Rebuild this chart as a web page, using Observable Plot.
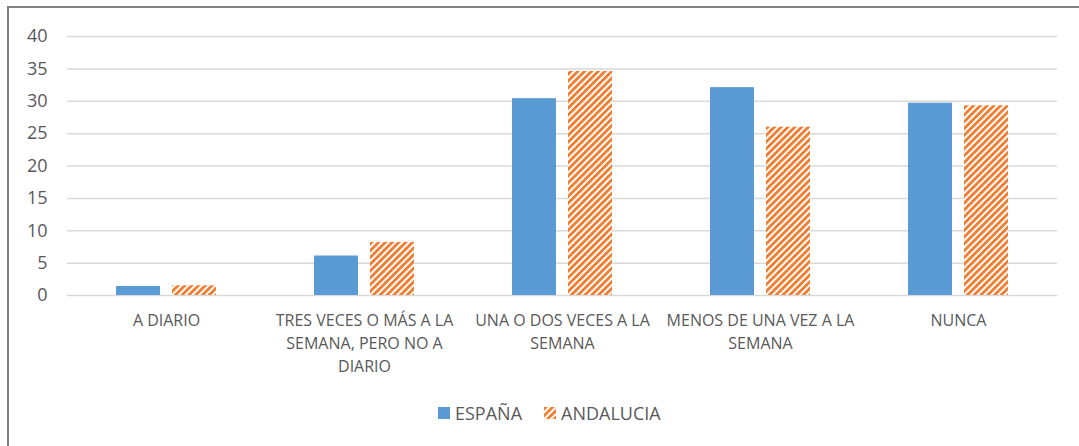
<!DOCTYPE html>
<html>
<head>
<meta charset="utf-8">
<script src="https://cdn.jsdelivr.net/npm/d3@7"></script>
<script src="https://cdn.jsdelivr.net/npm/@observablehq/plot@0.6"></script>
<style>
html, body { margin: 0; padding: 0; background: #fff; overflow: hidden; width: 1079px; height: 446px; }
#frame { position: absolute; left: 7px; top: 6px; width: 1090px; height: 470px; border: 2px solid #808080; box-sizing: border-box; }
#chart { position: absolute; left: 0; top: 0; }
#legend { position: absolute; left: 438px; top: 400px; height: 26px; display: flex; align-items: center; font-family: 'Open Sans', sans-serif; font-size: 18px; color: #595959; }
#legend .item { display: flex; align-items: center; }
#legend svg { display: block; margin-right: 5px; }
</style>
</head>
<body>
<div id="frame"></div>
<div id="chart"></div>
<div id="legend"></div>
<script>
const categories = ["A DIARIO", "TRES VECES O MÁS A LA SEMANA, PERO NO A DIARIO", "UNA O DOS VECES A LA SEMANA", "MENOS DE UNA VEZ A LA SEMANA", "NUNCA"];
const tickLabels = ["A DIARIO", "TRES VECES O MÁS A LA\nSEMANA, PERO NO A\nDIARIO", "UNA O DOS VECES A LA\nSEMANA", "MENOS DE UNA VEZ A LA\nSEMANA", "NUNCA"];
const series = ["ESPAÑA", "ANDALUCIA"];
const espana = [1.4, 6.1, 30.4, 32.1, 29.7];
const andalucia = [1.5, 8.2, 34.6, 26.0, 29.3];
const yTicks = [0, 5, 10, 15, 20, 25, 30, 35, 40];

const colors = { "ESPAÑA": "#5B9BD5", "ANDALUCIA": "#ED7D31" };

const data = [];
categories.forEach((c, i) => {
  data.push({ category: c, series: series[0], value: espana[i] });
  data.push({ category: c, series: series[1], value: andalucia[i] });
});

const chart = Plot.plot({
  width: 1079,
  height: 385,
  marginLeft: 67,
  marginRight: 22,
  marginTop: 36,
  marginBottom: 90,
  style: { fontFamily: "'Open Sans', sans-serif", fontSize: "16px", color: "#595959", background: "transparent" },
  fx: { domain: categories, padding: 0, label: null },
  x: { domain: series, paddingInner: 0.212, paddingOuter: 0.858, axis: null },
  y: { domain: [0, 40], label: null },
  marks: [
    Plot.ruleY(yTicks, { stroke: "#d9d9d9", strokeWidth: 1.5 }),
    Plot.barY(data.filter(d => d.series === series[0]), { fx: "category", x: "series", y: "value", fill: colors["ESPAÑA"] }),
    Plot.barY(data.filter(d => d.series === series[1]), { fx: "category", x: "series", y: "value", fill: "url(#hatch)" }),
    Plot.axisY({ ticks: yTicks, tickSize: 0, tickPadding: 20, fontSize: 18, label: null }),
    Plot.axisFx({ anchor: "bottom", tickSize: 0, tickPadding: 14, fontSize: 16, lineHeight: 1.45, label: null,
      tickFormat: d => tickLabels[categories.indexOf(d)] })
  ]
});

function addHatch(svgSel, id) {
  const defs = svgSel.insert("defs", ":first-child");
  const p = defs.append("pattern")
    .attr("id", id)
    .attr("patternUnits", "userSpaceOnUse")
    .attr("width", 4.8).attr("height", 4.8)
    .attr("patternTransform", "rotate(45)");
  p.append("rect").attr("width", 4.8).attr("height", 4.8).attr("fill", "#fff");
  p.append("rect").attr("width", 2.8).attr("height", 4.8).attr("fill", colors["ANDALUCIA"]);
}
addHatch(d3.select(chart), "hatch");
document.getElementById("chart").appendChild(chart);

const legend = d3.select("#legend");
series.forEach((s, i) => {
  const item = legend.append("div").attr("class", "item").style("margin-right", i === 0 ? "22px" : "0px");
  const sv = item.append("svg").attr("width", 12).attr("height", 12);
  if (i === 1) {
    addHatch(sv, "hatchLegend");
    sv.append("rect").attr("width", 12).attr("height", 12).attr("fill", "url(#hatchLegend)");
  } else {
    sv.append("rect").attr("width", 12).attr("height", 12).attr("fill", colors[s]);
  }
  item.append("span").text(s);
});
</script>
</body>
</html>
